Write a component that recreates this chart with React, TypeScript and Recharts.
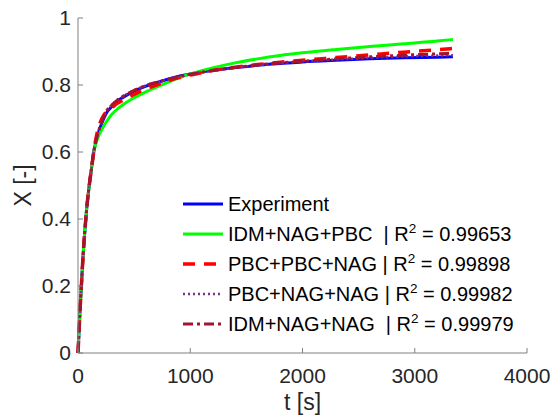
import React from "react";
import { LineChart, Line, XAxis, YAxis, Legend } from "recharts";

// sampling times [s]
const times = [
  0, 10, 20, 30, 45, 60, 80, 100, 120, 140, 160, 180, 200, 230, 260, 300, 350, 400,
  500, 600, 700, 800, 900, 1000, 1200, 1400, 1600, 1800, 2000, 2300, 2600, 2900, 3200, 3340,
];

const experiment = [
  0, 0.07, 0.14, 0.2, 0.29, 0.36, 0.44, 0.5, 0.55, 0.6, 0.63, 0.655, 0.675, 0.7, 0.72, 0.735, 0.752, 0.763,
  0.782, 0.796, 0.807, 0.817, 0.826, 0.833, 0.844, 0.852, 0.859, 0.864, 0.869, 0.874, 0.878, 0.881, 0.883, 0.884,
];
const idmNagPbc = [
  0, 0.07, 0.14, 0.2, 0.29, 0.36, 0.44, 0.5, 0.55, 0.598, 0.625, 0.645, 0.66, 0.678, 0.694, 0.712, 0.728, 0.741,
  0.762, 0.779, 0.794, 0.808, 0.821, 0.833, 0.851, 0.866, 0.878, 0.888, 0.896, 0.906, 0.915, 0.923, 0.931, 0.936,
];
const pbcPbcNag = [
  0, 0.07, 0.14, 0.2, 0.29, 0.36, 0.44, 0.5, 0.55, 0.6, 0.64, 0.67, 0.69, 0.71, 0.722, 0.732, 0.745, 0.755,
  0.772, 0.788, 0.8, 0.812, 0.822, 0.83, 0.843, 0.853, 0.861, 0.868, 0.874, 0.882, 0.89, 0.898, 0.905, 0.909,
];
const pbcNagNag = [
  0, 0.07, 0.14, 0.2, 0.29, 0.36, 0.44, 0.5, 0.55, 0.6, 0.632, 0.658, 0.68, 0.705, 0.725, 0.74, 0.755, 0.766,
  0.784, 0.798, 0.808, 0.817, 0.825, 0.832, 0.843, 0.852, 0.859, 0.865, 0.87, 0.876, 0.881, 0.885, 0.888, 0.889,
];
const idmNagNag = [
  0, 0.07, 0.14, 0.2, 0.29, 0.36, 0.44, 0.5, 0.55, 0.6, 0.632, 0.658, 0.68, 0.705, 0.725, 0.74, 0.755, 0.766,
  0.784, 0.798, 0.808, 0.817, 0.825, 0.832, 0.843, 0.852, 0.86, 0.866, 0.871, 0.878, 0.884, 0.889, 0.893, 0.895,
];

const xTicks = [0, 1000, 2000, 3000, 4000];
const yTicks = [0, 0.2, 0.4, 0.6, 0.8, 1];

const series = [
  { key: "exp", name: "Experiment", r2: "", color: "#0000FF", width: 3, dash: undefined },
  { key: "a", name: "IDM+NAG+PBC  ", r2: "0.99653", color: "#00FF00", width: 3, dash: undefined },
  { key: "b", name: "PBC+PBC+NAG ", r2: "0.99898", color: "#FF0000", width: 3.5, dash: "12 9" },
  { key: "c", name: "PBC+NAG+NAG ", r2: "0.99982", color: "#7E2F8E", width: 2.5, dash: "2 3" },
  { key: "d", name: "IDM+NAG+NAG  ", r2: "0.99979", color: "#A2142F", width: 3, dash: "10 4 3 4" },
];

const data = times.map((t, i) => ({
  t,
  exp: experiment[i],
  a: idmNagPbc[i],
  b: pbcPbcNag[i],
  c: pbcNagNag[i],
  d: idmNagNag[i],
}));

const FONT = "'Liberation Sans', Arial, Helvetica, sans-serif";
const AXIS = "#808080";
const TXT = "#262626";

function renderLegend() {
  return (
    <div style={{ fontFamily: FONT, fontSize: 20, color: "#000" }}>
      {series.map((s) => (
        <div key={s.key} style={{ height: 30, display: "flex", alignItems: "center", whiteSpace: "pre" }}>
          <svg width={45} height={10} style={{ flex: "none" }}>
            <line x1={0} y1={5} x2={40} y2={5} stroke={s.color} strokeWidth={s.width} strokeDasharray={s.dash} />
          </svg>
          <span>
            {s.name}
            {s.r2 && (
              <>
                | R<sup style={{ fontSize: 13.5, verticalAlign: 0, position: "relative", top: -8 }}>2</sup> = {s.r2}
              </>
            )}
          </span>
        </div>
      ))}
    </div>
  );
}

export default function App() {
  return (
    <div style={{ position: "absolute", left: 0, top: 0, width: 551, height: 418, background: "#fff" }}>
      <LineChart
        width={551}
        height={418}
        data={data}
        margin={{ top: 18, right: 24, bottom: 35, left: 38 }}
        style={{ fontFamily: FONT }}
      >
        <XAxis
          dataKey="t"
          type="number"
          domain={[0, 4000]}
          ticks={xTicks}
          height={30}
          stroke={AXIS}
          tickSize={-5}
          tickMargin={20}
          tick={{ fill: TXT, fontSize: 21 }}
          label={{ value: "t [s]", position: "bottom", offset: 11, fill: TXT, fontSize: 23 }}
        />
        <XAxis
          xAxisId="top"
          orientation="top"
          type="number"
          domain={[0, 4000]}
          ticks={xTicks}
          height={0}
          stroke={AXIS}
          tickSize={-5}
          tick={false}
        />
        <YAxis
          type="number"
          domain={[0, 1]}
          ticks={yTicks}
          width={40}
          stroke={AXIS}
          tickSize={-5}
          tickMargin={12}
          tick={{ fill: TXT, fontSize: 21 }}
          label={{
            value: "X [-]",
            angle: -90,
            position: "insideLeft",
            offset: -15,
            fill: TXT,
            fontSize: 23,
            style: { textAnchor: "middle" },
          }}
        />
        <YAxis
          yAxisId="right"
          orientation="right"
          type="number"
          domain={[0, 1]}
          ticks={yTicks}
          width={0}
          stroke={AXIS}
          tickSize={-5}
          tick={false}
        />
        <Legend
          layout="vertical"
          align="center"
          verticalAlign="middle"
          wrapperStyle={{ left: 183, top: 189, width: 360 }}
          content={renderLegend}
        />
        {series.map((s) => (
          <Line
            key={s.key}
            type="monotone"
            dataKey={s.key}
            name={s.name}
            stroke={s.color}
            strokeWidth={s.width}
            strokeDasharray={s.dash}
            dot={false}
            activeDot={false}
            isAnimationActive={false}
          />
        ))}
      </LineChart>
    </div>
  );
}
